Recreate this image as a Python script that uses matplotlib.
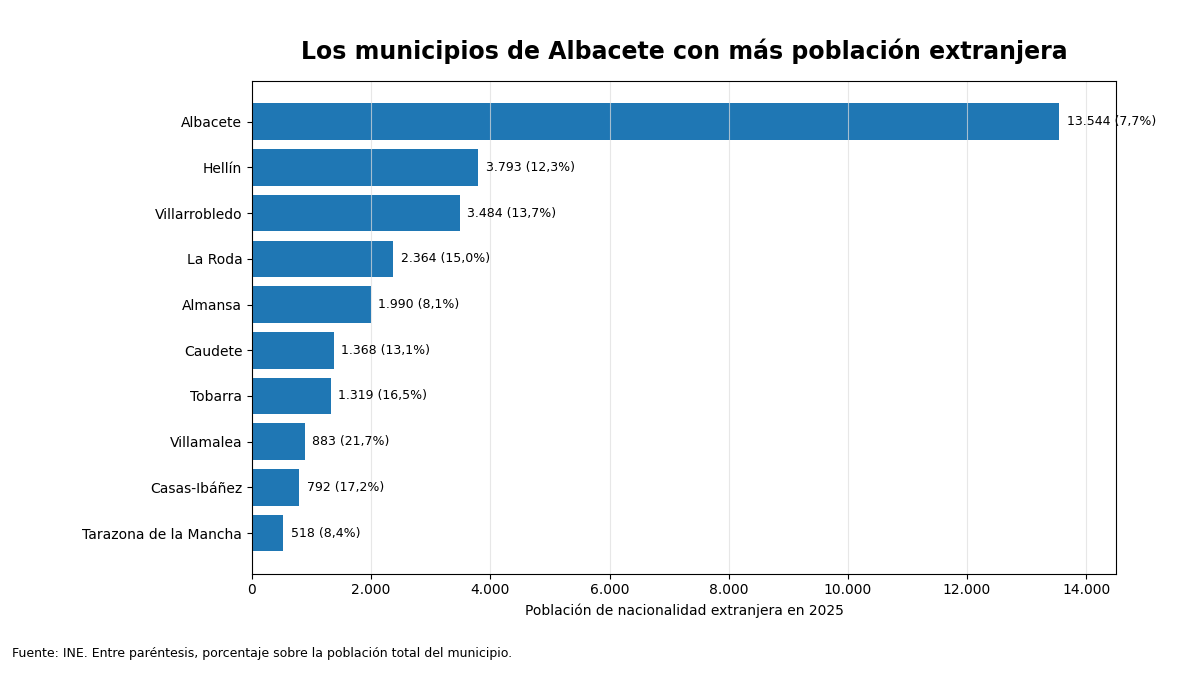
import matplotlib.pyplot as plt

municipios = ["Albacete", "Hellín", "Villarrobledo", "La Roda", "Almansa",
              "Caudete", "Tobarra", "Villamalea", "Casas-Ibáñez", "Tarazona de la Mancha"]
extranjeros = [13544, 3793, 3484, 2364, 1990, 1368, 1319, 883, 792, 518]
porcentaje = [7.7, 12.3, 13.7, 15.0, 8.1, 13.1, 16.5, 21.7, 17.2, 8.4]


def miles(v):
    return f"{v:,.0f}".replace(",", ".")


fig, ax = plt.subplots(figsize=(12, 6.75), dpi=100)
fig.subplots_adjust(left=0.21, right=0.93, top=0.88, bottom=0.15)

y = list(range(len(municipios)))
ax.barh(y, extranjeros, height=0.8, color="#1f77b4")
ax.set_yticks(y, municipios)
ax.invert_yaxis()
ax.set_xlim(0, 14500)

ticks = list(range(0, 14001, 2000))
ax.set_xticks(ticks, [miles(t) for t in ticks])
ax.grid(axis="x", color="#dddddd", alpha=0.7, linewidth=0.8)

for i, (v, p) in enumerate(zip(extranjeros, porcentaje)):
    ax.text(v + 130, i, f"{miles(v)} ({p:.1f}%)".replace(".", ",", 1) if False else
            f"{miles(v)} ({str(p).replace('.', ',')}%)",
            va="center", ha="left", fontsize=9)

ax.set_xlabel("Población de nacionalidad extranjera en 2025")
ax.set_title("Los municipios de Albacete con más población extranjera",
             fontsize=17, fontweight="bold", pad=16)
fig.text(0.01, 0.027, "Fuente: INE. Entre paréntesis, porcentaje sobre la población total del municipio.",
         fontsize=9)

fig.savefig("out.png", dpi=100)
